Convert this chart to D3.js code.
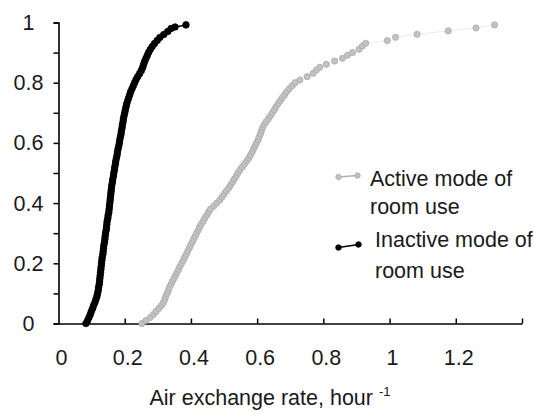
<!DOCTYPE html>
<html>
<head>
<meta charset="utf-8">
<script src="https://d3js.org/d3.v7.min.js"></script>
<style>
  body { margin: 0; background: #fff; }
  text { font-family: "Liberation Sans", Arial, sans-serif; fill: #1a1a1a; }
</style>
</head>
<body>
<div id="chart"></div>
<script>
// inactive mode of room use: air exchange rate (hour-1) vs cumulative probability
var inactiveRate = [0.083,0.088,0.092,0.096,0.099,0.103,0.106,0.110,0.113,0.116,
  0.118,0.120,0.121,0.123,0.124,0.125,0.126,0.127,0.128,0.129,
  0.130,0.131,0.132,0.134,0.135,0.136,0.137,0.139,0.140,0.141,
  0.142,0.144,0.145,0.146,0.147,0.149,0.150,0.152,0.153,0.154,
  0.155,0.156,0.157,0.158,0.159,0.160,0.161,0.163,0.164,0.166,
  0.167,0.169,0.170,0.172,0.173,0.175,0.177,0.178,0.180,0.182,
  0.184,0.185,0.187,0.189,0.190,0.192,0.193,0.195,0.196,0.198,
  0.200,0.202,0.204,0.206,0.209,0.212,0.215,0.218,0.222,0.226,
  0.230,0.234,0.239,0.245,0.250,0.254,0.257,0.260,0.264,0.268,
  0.272,0.277,0.283,0.290,0.298,0.306,0.318,0.330,0.340,0.352,0.385];
var inactiveProb = [0.00,0.01,0.02,0.03,0.04,0.05,0.06,0.07,0.08,0.09,
  0.10,0.11,0.12,0.13,0.14,0.15,0.16,0.17,0.18,0.19,
  0.20,0.21,0.22,0.23,0.24,0.25,0.26,0.27,0.28,0.29,
  0.30,0.31,0.32,0.33,0.34,0.35,0.36,0.37,0.38,0.39,
  0.40,0.41,0.42,0.43,0.44,0.45,0.46,0.47,0.48,0.49,
  0.50,0.51,0.52,0.53,0.54,0.55,0.56,0.57,0.58,0.59,
  0.60,0.61,0.62,0.63,0.64,0.65,0.66,0.67,0.68,0.69,
  0.70,0.71,0.72,0.73,0.74,0.75,0.76,0.77,0.78,0.79,
  0.80,0.81,0.82,0.83,0.84,0.85,0.86,0.87,0.88,0.89,
  0.90,0.91,0.92,0.93,0.94,0.95,0.96,0.97,0.98,0.985,0.992];

// active mode of room use
var activeRate = [0.252,0.264,0.277,0.287,0.295,0.303,0.311,0.317,0.321,0.324,
  0.328,0.332,0.335,0.340,0.344,0.349,0.354,0.358,0.363,0.367,
  0.372,0.377,0.381,0.386,0.390,0.395,0.399,0.404,0.408,0.413,
  0.417,0.422,0.426,0.431,0.437,0.442,0.448,0.453,0.459,0.469,
  0.478,0.487,0.494,0.500,0.507,0.514,0.520,0.526,0.531,0.537,
  0.542,0.548,0.555,0.562,0.569,0.575,0.580,0.585,0.589,0.594,
  0.598,0.603,0.606,0.610,0.613,0.616,0.621,0.627,0.634,0.640,
  0.646,0.652,0.657,0.663,0.670,0.676,0.683,0.689,0.697,0.706,
  0.715,0.729,0.751,0.769,0.779,0.789,0.809,0.834,0.858,0.873,
  0.888,0.908,0.918,0.928,0.993,1.018,1.083,1.177,1.261,1.317];
var activeProb = [0.00,0.01,0.02,0.03,0.04,0.05,0.06,0.07,0.08,0.09,
  0.10,0.11,0.12,0.13,0.14,0.15,0.16,0.17,0.18,0.19,
  0.20,0.21,0.22,0.23,0.24,0.25,0.26,0.27,0.28,0.29,
  0.30,0.31,0.32,0.33,0.34,0.35,0.36,0.37,0.38,0.39,
  0.40,0.41,0.42,0.43,0.44,0.45,0.46,0.47,0.48,0.49,
  0.50,0.51,0.52,0.53,0.54,0.55,0.56,0.57,0.58,0.59,
  0.60,0.61,0.62,0.63,0.64,0.65,0.66,0.67,0.68,0.69,
  0.70,0.71,0.72,0.73,0.74,0.75,0.76,0.77,0.78,0.79,
  0.80,0.809,0.820,0.831,0.842,0.851,0.861,0.872,0.881,0.891,
  0.900,0.911,0.922,0.931,0.940,0.951,0.961,0.972,0.982,0.992];

var xTicks = [0, 0.2, 0.4, 0.6, 0.8, 1, 1.2];
var yTicks = [0, 0.2, 0.4, 0.6, 0.8, 1];
var yMinorTicks = [0, 0.1, 0.2, 0.3, 0.4, 0.5, 0.6, 0.7, 0.8, 0.9, 1];
var seriesNames = ["Active mode of", "room use", "Inactive mode of", "room use"];

var svgWidth = 534, svgHeight = 411;

var svg = d3.select("#chart")
  .append("svg")
  .attr("width", svgWidth)
  .attr("height", svgHeight);

var x = d3.scaleLinear().domain([0, 1.4]).range([58.5, 522]);
var y = d3.scaleLinear().domain([0, 1]).range([323.5, 22.5]);

// y axis: ticks every 0.1 pointing out
var yAxis = d3.axisLeft(y).tickValues(yMinorTicks).tickSize(5).tickFormat("");
var gy = svg.append("g").attr("transform", "translate(" + x(0) + ",0)").call(yAxis);
gy.select(".domain").attr("stroke", "#000").attr("stroke-width", 1.6);
gy.selectAll(".tick line").attr("stroke", "#000").attr("stroke-width", 1.5);

svg.selectAll(".ylab")
  .data(yTicks)
  .enter()
  .append("text")
  .attr("class", "ylab")
  .attr("x", 28.5)
  .attr("y", d => y(d) + 7.5)
  .attr("text-anchor", "middle")
  .style("font-size", "21.5px")
  .text(d => d);

// x axis: ticks pointing in (up)
var xAxis = d3.axisTop(x).tickValues([0.2, 0.4, 0.6, 0.8, 1, 1.2, 1.4]).tickSize(5).tickFormat("").tickSizeOuter(0);
var gx = svg.append("g").attr("transform", "translate(0," + y(0) + ")").call(xAxis);
gx.select(".domain").attr("stroke", "#000").attr("stroke-width", 1.6);
gx.selectAll(".tick line").attr("stroke", "#000").attr("stroke-width", 1.5);

svg.selectAll(".xlab")
  .data(xTicks)
  .enter()
  .append("text")
  .attr("class", "xlab")
  .attr("x", d => x(d) + 3)
  .attr("y", 365)
  .attr("text-anchor", "middle")
  .style("font-size", "21.5px")
  .text(d => d);

var title = svg.append("text")
  .attr("x", 270)
  .attr("y", 405)
  .attr("text-anchor", "middle")
  .style("font-size", "21.5px");
title.append("tspan").text("Air exchange rate, hour ");
title.append("tspan").attr("dy", -9).style("font-size", "13px").text("-1");

function drawSeries(rates, probs, lineColor, lineWidth, fill, stroke, r) {
  var pts = rates.map((v, i) => [v, probs[i]]);
  var line = d3.line().x(d => x(d[0])).y(d => y(d[1]));
  svg.append("path")
    .datum(pts)
    .attr("d", line)
    .attr("fill", "none")
    .attr("stroke", lineColor)
    .attr("stroke-width", lineWidth);
  svg.append("g")
    .selectAll("circle")
    .data(pts)
    .enter()
    .append("circle")
    .attr("cx", d => x(d[0]))
    .attr("cy", d => y(d[1]))
    .attr("r", r)
    .attr("fill", fill)
    .attr("stroke", stroke)
    .attr("stroke-width", 0.8);
}

drawSeries(activeRate, activeProb, "#ececec", 1, "#c2c2c2", "#ababab", 3.1);
drawSeries(inactiveRate, inactiveProb, "#000", 1.5, "#000", "#000", 3.3);

// legend
function legendKey(x1, y1, x2, y2, lineColor, fill, stroke, r) {
  svg.append("line")
    .attr("x1", x1).attr("y1", y1).attr("x2", x2).attr("y2", y2)
    .attr("stroke", lineColor).attr("stroke-width", 1.5);
  [[x1, y1], [x2, y2]].forEach(p => {
    svg.append("circle")
      .attr("cx", p[0]).attr("cy", p[1]).attr("r", r)
      .attr("fill", fill).attr("stroke", stroke).attr("stroke-width", 0.8);
  });
}
legendKey(338.5, 177, 357.5, 175.5, "#b0b0b0", "#c2c2c2", "#ababab", 2.7);
legendKey(338.5, 247.5, 358.5, 244.5, "#000", "#000", "#000", 2.8);

var legendPos = [[370, 185.5], [370, 213.5], [375, 246.5], [375, 278]];
svg.selectAll(".leg")
  .data(seriesNames)
  .enter()
  .append("text")
  .attr("class", "leg")
  .attr("x", (d, i) => legendPos[i][0])
  .attr("y", (d, i) => legendPos[i][1])
  .style("font-size", "21.5px")
  .text(d => d);
</script>
</body>
</html>
